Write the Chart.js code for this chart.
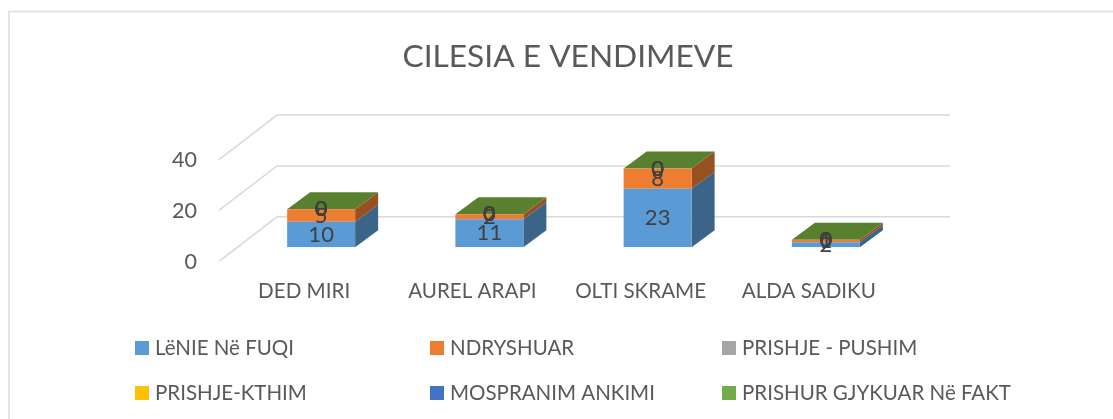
<!DOCTYPE html>
<html><head><meta charset="utf-8">
<style>html,body{margin:0;padding:0;background:#fff;overflow:hidden}#w{position:relative;width:1113px;height:419px}</style>
<script src="https://cdn.jsdelivr.net/npm/chart.js@4"></script></head>
<body><div id="w"><canvas id="c" width="1113" height="419"></canvas></div>
<script>
const categories = ["DED MIRI","AUREL ARAPI","OLTI SKRAME","ALDA SADIKU"];
const seriesNames = ["LëNIE Në FUQI","NDRYSHUAR","PRISHJE - PUSHIM","PRISHJE-KTHIM","MOSPRANIM ANKIMI","PRISHUR GJYKUAR Në FAKT"];
const lenie = [10,11,23,2];
const ndryshuar = [5,2,8,1];
const pushim = [0,0,0,0];
const kthim = [0,0,0,0];
const mospranim = [0,0,0,0];
const prishur = [0,0,0,0];
const yTicks = [0,20,40];
const colors = ["#5B9BD5","#ED7D31","#A5A5A5","#FFC000","#4472C4","#70AD47"];
const sideColors = ["#3A6488","#97501F","#696969","#A37B00","#2B497D","#548235"];
const topColor = "#58802F";
const FONT = "Lato";
const DX = 23, DY = -17;

const plugin3d = {
  id:'plugin3d',
  afterLayout(chart){ chart.titleBlock.left += 113; chart.titleBlock.right += 113; },
  beforeDraw(chart){
    const {ctx,width,height}=chart;
    ctx.save();
    ctx.strokeStyle="#E3E3E3";ctx.lineWidth=2;
    ctx.beginPath();ctx.moveTo(9,height);ctx.lineTo(9,11.5);ctx.lineTo(width,11.5);ctx.stroke();
    ctx.restore();
  },
  beforeDatasetsDraw(chart){
    const {ctx,scales:{x,y}}=chart;
    const left=219, back=277, right=950;
    ctx.save();
    ctx.strokeStyle="#D9D9D9";ctx.lineWidth=1.5;
    yTicks.forEach(v=>{
      const p=y.getPixelForValue(v);
      ctx.beginPath();ctx.moveTo(left,p+14);ctx.lineTo(back,p-30.5);ctx.lineTo(right,p-30.5);ctx.stroke();
    });
    const n=chart.data.datasets.length;
    categories.forEach((_,i)=>{
      chart.data.datasets.forEach((d,k)=>{
        const b=chart.getDatasetMeta(k).data[i];
        const r=b.x+b.width/2;
        ctx.fillStyle=sideColors[k];
        ctx.beginPath();ctx.moveTo(r,b.base);ctx.lineTo(r+DX,b.base+DY);ctx.lineTo(r+DX,b.y+DY);ctx.lineTo(r,b.y);ctx.closePath();ctx.fill();
      });
      const t=chart.getDatasetMeta(n-1).data[i];
      const l=t.x-t.width/2,r=t.x+t.width/2;
      ctx.fillStyle=topColor;
      ctx.beginPath();ctx.moveTo(l,t.y);ctx.lineTo(l+DX,t.y+DY);ctx.lineTo(r+DX,t.y+DY);ctx.lineTo(r,t.y);ctx.closePath();ctx.fill();
    });
    ctx.restore();
  },
  afterDatasetsDraw(chart){
    const {ctx}=chart;
    ctx.save();
    ctx.fillStyle="#404040";ctx.font="22px "+FONT;ctx.textAlign="center";ctx.textBaseline="middle";
    chart.data.datasets.forEach((d,k)=>{
      chart.getDatasetMeta(k).data.forEach((b,i)=>{
        ctx.fillText(String(d.data[i]),b.x,(b.y+b.base)/2);
      });
    });
    ctx.restore();
    const cols=[134,429,721], rows=[348,393];
    ctx.save();
    ctx.font="20.5px "+FONT;ctx.textBaseline="middle";ctx.textAlign="left";
    chart.data.datasets.forEach((d,k)=>{
      const cx=cols[k%3], cy=rows[Math.floor(k/3)];
      ctx.fillStyle=d.backgroundColor;ctx.fillRect(cx+1,cy-7,14,14);
      ctx.fillStyle="#595959";ctx.fillText(d.label,cx+21,cy);
    });
    ctx.restore();
  }
};

const seriesValues=[lenie,ndryshuar,pushim,kthim,mospranim,prishur];
new Chart(document.getElementById('c'),{
  type:'bar',
  data:{labels:categories,datasets:seriesNames.map((s,i)=>({label:s,data:seriesValues[i],backgroundColor:colors[i],borderWidth:0,barPercentage:0.404,categoryPercentage:1}))},
  options:{
    responsive:false,animation:false,
    layout:{padding:{left:0,right:203,top:0,bottom:91}},
    plugins:{
      legend:{display:false},tooltip:{enabled:false},
      title:{display:true,text:"CILESIA E VENDIMEVE",color:"#595959",font:{family:FONT,size:31.7,weight:'normal'},padding:{top:38,bottom:69.5}}
    },
    scales:{
      x:{stacked:true,grid:{display:false},border:{display:false},
         ticks:{color:"#595959",font:{family:FONT,size:20.6},labelOffset:-17,padding:24,maxRotation:0,autoSkip:false}},
      y:{stacked:true,min:0,max:40,afterBuildTicks(a){a.ticks=yTicks.map(v=>({value:v}));},
         afterFit(a){a.width=237;},
         grid:{display:false},border:{display:false},
         ticks:{color:"#595959",font:{family:FONT,size:21.5},labelOffset:15,padding:32}}
    }
  },
  plugins:[plugin3d]
});
</script></body></html>
